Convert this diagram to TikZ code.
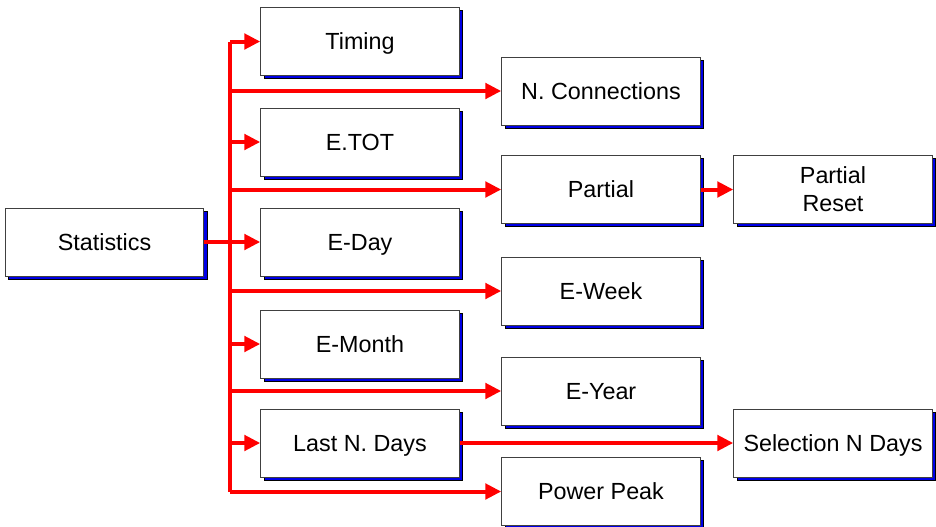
\documentclass[tikz,border=0pt]{standalone}
\usepackage{fontspec}
\setmainfont{Liberation Sans}
\usetikzlibrary{arrows.meta,shadows}

\definecolor{statred}{RGB}{255,0,0}
\definecolor{statblue}{RGB}{0,0,230}

\tikzset{
  boxbase/.style={draw=black!75,line width=.6pt,fill=white,
    minimum width=149pt,minimum height=51pt,align=center,inner sep=2pt,
    general shadow={fill=statblue,draw=black,line width=.4pt,
      shadow xshift=2.4pt,shadow yshift=-2.4pt}},
  menubox/.style={boxbase,text height=16pt,text depth=3.5pt},
  redarrow/.style={draw=statred,line width=3pt,
    -{Triangle[length=12pt,width=11.5pt]}},
  redline/.style={draw=statred,line width=3pt}
}

\begin{document}
\begin{tikzpicture}[x=.75pt,y=-.75pt,font=\fontsize{17.5}{21}\selectfont]
\path[use as bounding box] (0,0) rectangle (936,526);
\node[menubox] (stat) at (104.5,242) {Statistics};
% first column
\node[menubox] (timing) at (360,41.5) {Timing};
\node[menubox] (etot) at (360,142) {E.TOT};
\node[menubox] (eday) at (360,242) {E-Day};
\node[menubox] (emonth) at (360,344) {E-Month};
\node[menubox] (lastn) at (360,443) {Last N. Days};
% second column
\node[menubox] (nconn) at (601,91) {N. Connections};
\node[menubox] (partial) at (601,189.5) {Partial};
\node[menubox] (eweek) at (601,291) {E-Week};
\node[menubox] (eyear) at (601,391) {E-Year};
\node[menubox] (peak) at (601,491.5) {Power Peak};
% third column
\node[boxbase] (preset) at (833,189.5) {Partial\\Reset};
\node[menubox] (seldays) at (833,443) {Selection N Days};
% trunk
\coordinate (trunk) at (230,0);
\draw[redline] (trunk |- timing.west) -- (trunk |- peak.west);
\foreach \b in {timing,etot,lastn,emonth,nconn,partial,eweek,eyear,peak}
  \draw[redarrow] (trunk |- \b.west) -- (\b.west);
\draw[redarrow] (stat.east) -- (eday.west);
\draw[redarrow] (partial.east) -- (preset.west);
\draw[redarrow] (lastn.east) -- (seldays.west);
\end{tikzpicture}
\end{document}
